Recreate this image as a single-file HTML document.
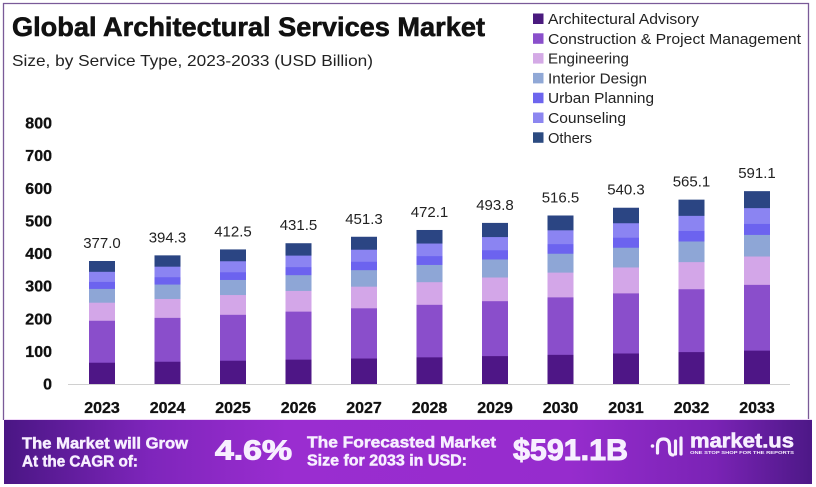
<!DOCTYPE html>
<html><head><meta charset="utf-8"><style>
html,body{margin:0;padding:0;background:#fff;}
svg{display:block;}
text{font-family:"Liberation Sans",Arial,sans-serif;}
</style></head><body>
<svg width="816" height="487" viewBox="0 0 816 487" xmlns="http://www.w3.org/2000/svg">
<defs>
<linearGradient id="bg" x1="0" y1="0" x2="1" y2="0">
<stop offset="0" stop-color="#4a1684"/>
<stop offset="0.18" stop-color="#7e25bb"/>
<stop offset="0.35" stop-color="#9a2dd0"/>
<stop offset="0.7" stop-color="#962ccd"/>
<stop offset="0.88" stop-color="#7a23b5"/>
<stop offset="1" stop-color="#4d1887"/>
</linearGradient>
</defs>
<rect width="816" height="487" fill="#fff"/>
<path d="M3.5 420 V3.5 H808.5 V420" fill="none" stroke="#7a5a98" stroke-width="1.3"/>

<text x="12" y="36" font-size="27" font-weight="bold" fill="#111" stroke="#111" stroke-width="0.6" textLength="473" lengthAdjust="spacingAndGlyphs">Global Architectural Services Market</text>
<text x="12" y="66" font-size="16" fill="#222" textLength="361" lengthAdjust="spacingAndGlyphs">Size, by Service Type, 2023-2033 (USD Billion)</text>

<g font-size="15" fill="#222">
<rect x="533" y="13.5" width="10.5" height="10.5" fill="#4a1a7e"/><text x="548" y="24" textLength="151" lengthAdjust="spacingAndGlyphs">Architectural Advisory</text>
<rect x="533" y="33.3" width="10.5" height="10.5" fill="#8a4fcb"/><text x="548" y="43.8" textLength="253" lengthAdjust="spacingAndGlyphs">Construction &amp; Project Management</text>
<rect x="533" y="53.1" width="10.5" height="10.5" fill="#d4aae6"/><text x="548" y="63.6" textLength="81" lengthAdjust="spacingAndGlyphs">Engineering</text>
<rect x="533" y="72.9" width="10.5" height="10.5" fill="#90a8d6"/><text x="548" y="83.4" textLength="99" lengthAdjust="spacingAndGlyphs">Interior Design</text>
<rect x="533" y="92.7" width="10.5" height="10.5" fill="#6d65ee"/><text x="548" y="103.2" textLength="106" lengthAdjust="spacingAndGlyphs">Urban Planning</text>
<rect x="533" y="112.5" width="10.5" height="10.5" fill="#8c86f0"/><text x="548" y="123" textLength="78" lengthAdjust="spacingAndGlyphs">Counseling</text>
<rect x="533" y="132.3" width="10.5" height="10.5" fill="#2b4a80"/><text x="548" y="142.8" textLength="44" lengthAdjust="spacingAndGlyphs">Others</text>
</g>

<g font-size="16" font-weight="bold" fill="#111" stroke="#111" stroke-width="0.3" text-anchor="end">
<text x="52" y="389.5">0</text>
<text x="52" y="357">100</text>
<text x="52" y="324.3">200</text>
<text x="52" y="291.7">300</text>
<text x="52" y="259">400</text>
<text x="52" y="226.4">500</text>
<text x="52" y="193.8">600</text>
<text x="52" y="161.1">700</text>
<text x="52" y="128.5">800</text>
</g>

<line x1="68" y1="384.5" x2="790" y2="384.5" stroke="#d0d0d0" stroke-width="1"/>

<g id="bars">
<g transform="translate(89,384) scale(1,-122.996)"><rect width="26" height="1" fill="#2b4583"/><rect width="26" height=".912" fill="#8b84f2"/><rect width="26" height=".830" fill="#6c63ef"/><rect width="26" height=".773" fill="#8ea6d6"/><rect width="26" height=".661" fill="#d3a6e8"/><rect width="26" height=".514" fill="#8a4ecb"/><rect width="26" height=".173" fill="#4e1686"/></g>
<g transform="translate(154.5,384) scale(1,-128.64)"><rect width="26" height="1" fill="#2b4583"/><rect width="26" height=".912" fill="#8b84f2"/><rect width="26" height=".830" fill="#6c63ef"/><rect width="26" height=".773" fill="#8ea6d6"/><rect width="26" height=".661" fill="#d3a6e8"/><rect width="26" height=".514" fill="#8a4ecb"/><rect width="26" height=".173" fill="#4e1686"/></g>
<g transform="translate(220,384) scale(1,-134.58)"><rect width="26" height="1" fill="#2b4583"/><rect width="26" height=".912" fill="#8b84f2"/><rect width="26" height=".830" fill="#6c63ef"/><rect width="26" height=".773" fill="#8ea6d6"/><rect width="26" height=".661" fill="#d3a6e8"/><rect width="26" height=".514" fill="#8a4ecb"/><rect width="26" height=".173" fill="#4e1686"/></g>
<g transform="translate(285.5,384) scale(1,-140.78)"><rect width="26" height="1" fill="#2b4583"/><rect width="26" height=".912" fill="#8b84f2"/><rect width="26" height=".830" fill="#6c63ef"/><rect width="26" height=".773" fill="#8ea6d6"/><rect width="26" height=".661" fill="#d3a6e8"/><rect width="26" height=".514" fill="#8a4ecb"/><rect width="26" height=".173" fill="#4e1686"/></g>
<g transform="translate(351,384) scale(1,-147.24)"><rect width="26" height="1" fill="#2b4583"/><rect width="26" height=".912" fill="#8b84f2"/><rect width="26" height=".830" fill="#6c63ef"/><rect width="26" height=".773" fill="#8ea6d6"/><rect width="26" height=".661" fill="#d3a6e8"/><rect width="26" height=".514" fill="#8a4ecb"/><rect width="26" height=".173" fill="#4e1686"/></g>
<g transform="translate(416.5,384) scale(1,-154.02)"><rect width="26" height="1" fill="#2b4583"/><rect width="26" height=".912" fill="#8b84f2"/><rect width="26" height=".830" fill="#6c63ef"/><rect width="26" height=".773" fill="#8ea6d6"/><rect width="26" height=".661" fill="#d3a6e8"/><rect width="26" height=".514" fill="#8a4ecb"/><rect width="26" height=".173" fill="#4e1686"/></g>
<g transform="translate(482,384) scale(1,-161.10)"><rect width="26" height="1" fill="#2b4583"/><rect width="26" height=".912" fill="#8b84f2"/><rect width="26" height=".830" fill="#6c63ef"/><rect width="26" height=".773" fill="#8ea6d6"/><rect width="26" height=".661" fill="#d3a6e8"/><rect width="26" height=".514" fill="#8a4ecb"/><rect width="26" height=".173" fill="#4e1686"/></g>
<g transform="translate(547.5,384) scale(1,-168.51)"><rect width="26" height="1" fill="#2b4583"/><rect width="26" height=".912" fill="#8b84f2"/><rect width="26" height=".830" fill="#6c63ef"/><rect width="26" height=".773" fill="#8ea6d6"/><rect width="26" height=".661" fill="#d3a6e8"/><rect width="26" height=".514" fill="#8a4ecb"/><rect width="26" height=".173" fill="#4e1686"/></g>
<g transform="translate(613,384) scale(1,-176.27)"><rect width="26" height="1" fill="#2b4583"/><rect width="26" height=".912" fill="#8b84f2"/><rect width="26" height=".830" fill="#6c63ef"/><rect width="26" height=".773" fill="#8ea6d6"/><rect width="26" height=".661" fill="#d3a6e8"/><rect width="26" height=".514" fill="#8a4ecb"/><rect width="26" height=".173" fill="#4e1686"/></g>
<g transform="translate(678.5,384) scale(1,-184.36)"><rect width="26" height="1" fill="#2b4583"/><rect width="26" height=".912" fill="#8b84f2"/><rect width="26" height=".830" fill="#6c63ef"/><rect width="26" height=".773" fill="#8ea6d6"/><rect width="26" height=".661" fill="#d3a6e8"/><rect width="26" height=".514" fill="#8a4ecb"/><rect width="26" height=".173" fill="#4e1686"/></g>
<g transform="translate(744,384) scale(1,-192.85)"><rect width="26" height="1" fill="#2b4583"/><rect width="26" height=".912" fill="#8b84f2"/><rect width="26" height=".830" fill="#6c63ef"/><rect width="26" height=".773" fill="#8ea6d6"/><rect width="26" height=".661" fill="#d3a6e8"/><rect width="26" height=".514" fill="#8a4ecb"/><rect width="26" height=".173" fill="#4e1686"/></g>
</g>

<g font-size="15" fill="#222" text-anchor="middle">
<text x="102" y="248">377.0</text>
<text x="167.5" y="242.4">394.3</text>
<text x="233" y="236.4">412.5</text>
<text x="298.5" y="230.2">431.5</text>
<text x="364" y="223.8">451.3</text>
<text x="429.5" y="217">472.1</text>
<text x="495" y="209.9">493.8</text>
<text x="560.5" y="202.5">516.5</text>
<text x="626" y="194.7">540.3</text>
<text x="691.5" y="186.6">565.1</text>
<text x="757" y="178.2">591.1</text>
</g>

<g font-size="16" font-weight="bold" fill="#111" stroke="#111" stroke-width="0.3" text-anchor="middle">
<text x="102" y="413">2023</text>
<text x="167.5" y="413">2024</text>
<text x="233" y="413">2025</text>
<text x="298.5" y="413">2026</text>
<text x="364" y="413">2027</text>
<text x="429.5" y="413">2028</text>
<text x="495" y="413">2029</text>
<text x="560.5" y="413">2030</text>
<text x="626" y="413">2031</text>
<text x="691.5" y="413">2032</text>
<text x="757" y="413">2033</text>
</g>

<rect x="4" y="420" width="808" height="64" fill="url(#bg)"/>
<line x1="4" y1="419.5" x2="812" y2="419.5" stroke="#f0d8f8" stroke-width="1"/>
<g fill="#f7efff" stroke="#f7efff" font-weight="bold">
<text x="22" y="448.3" font-size="16" stroke-width="0.5" textLength="166" lengthAdjust="spacingAndGlyphs">The Market will Grow</text>
<text x="22" y="466.7" font-size="16" stroke-width="0.5" textLength="116" lengthAdjust="spacingAndGlyphs">At the CAGR of:</text>
<text x="215" y="459.5" font-size="28" stroke-width="1" textLength="77" lengthAdjust="spacingAndGlyphs">4.6%</text>
<text x="307" y="447.3" font-size="16" stroke-width="0.5" textLength="189" lengthAdjust="spacingAndGlyphs">The Forecasted Market</text>
<text x="307" y="465.7" font-size="16" stroke-width="0.5" textLength="160" lengthAdjust="spacingAndGlyphs">Size for 2033 in USD:</text>
<text x="513" y="460" font-size="30" stroke-width="1" textLength="115" lengthAdjust="spacingAndGlyphs">$591.1B</text>
<text x="690" y="447.5" font-size="20" stroke-width="0.6" textLength="104" lengthAdjust="spacingAndGlyphs">market.us</text>
<text x="690" y="454" font-size="4.5" stroke="none" textLength="104" lengthAdjust="spacingAndGlyphs">ONE STOP SHOP FOR THE REPORTS</text>
</g>
<g fill="none" stroke="#f7efff" stroke-width="3.2" stroke-linecap="round">
<circle cx="652.5" cy="446" r="1.8" fill="#f7efff" stroke="none"/>
<path d="M657.5 453 V446 Q657.5 439 663.5 439 Q669.5 439 669.5 446 V450 Q669.5 455 673 455"/>
<path d="M675.5 441 V454"/>
<path d="M681 438 V454"/>
</g>
</svg>
</body></html>
